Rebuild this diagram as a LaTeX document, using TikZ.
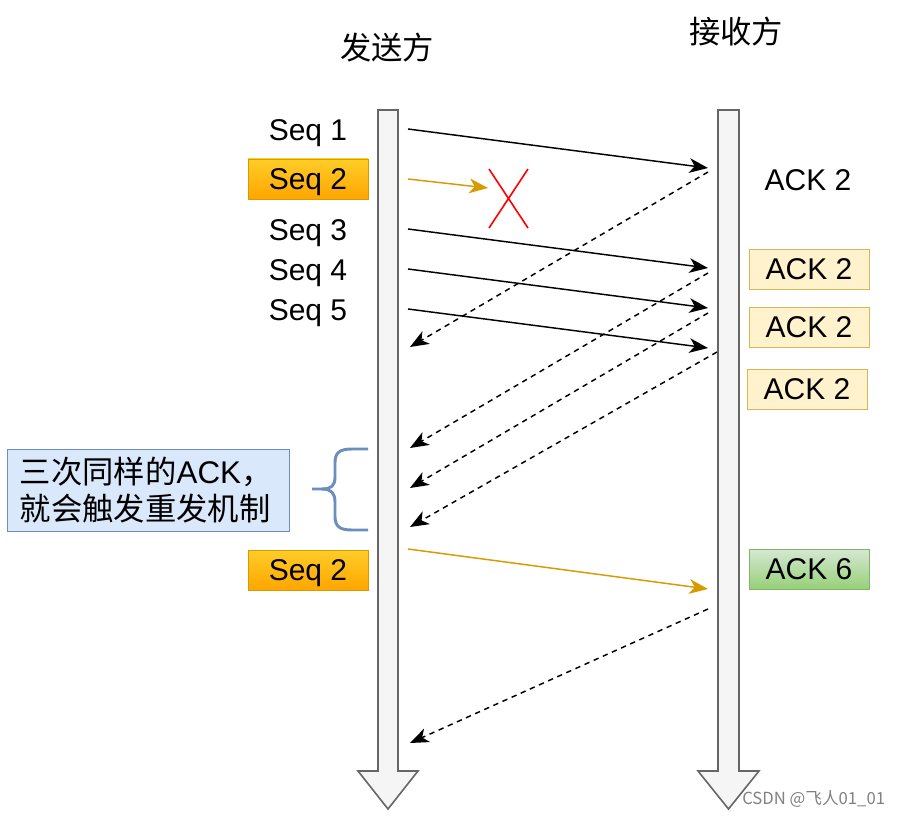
\documentclass[tikz,border=0pt]{standalone}
\usepackage{fontspec}
\setmainfont{Liberation Sans}
\newfontfamily\cjk{Noto Sans CJK SC}
\usetikzlibrary{positioning, arrows.meta}

\definecolor{lifegray}{HTML}{F5F5F5}
\definecolor{lifeedge}{HTML}{666666}
\definecolor{orangetop}{HTML}{FFCD28}
\definecolor{orangebot}{HTML}{FFA500}
\definecolor{orangeedge}{HTML}{D79B00}
\definecolor{ackfill}{HTML}{FFF2CC}
\definecolor{ackedge}{HTML}{D6B656}
\definecolor{greentop}{HTML}{D5E8D4}
\definecolor{greenbot}{HTML}{97D077}
\definecolor{greenedge}{HTML}{82B366}
\definecolor{notefill}{HTML}{DAE8FC}
\definecolor{noteedge}{HTML}{6C8EBF}

\begin{document}
\begin{tikzpicture}[x=0.75pt, y=-0.75pt]
      \tikzstyle{seqtext} = [font=\fontsize{22.5}{26}\selectfont, inner sep=0pt, text height=16.2pt, text depth=0pt]
      \tikzstyle{seqbox} = [seqtext, rectangle, minimum width=90pt, minimum height=30pt, draw=orangeedge, top color=orangetop, bottom color=orangebot]
      \tikzstyle{ackbox} = [seqtext, rectangle, minimum width=90pt, minimum height=30pt, draw=ackedge, fill=ackfill]
      \tikzstyle{greenbox} = [seqtext, rectangle, minimum width=90pt, minimum height=30pt, draw=greenedge, top color=greentop, bottom color=greenbot]
      \tikzstyle{notebox} = [rectangle, draw=noteedge, fill=notefill, minimum width=211.5pt, minimum height=61.5pt, text width=192pt, align=left, font=\fontsize{23.5}{28}\selectfont]
      \tikzstyle{title} = [font=\cjk\fontsize{23.5}{28}\selectfont, inner sep=0pt]
      \tikzstyle{arrow} = [line width=1.1pt, -{Stealth[length=14pt, width=11pt, inset=4pt]}]
      \tikzstyle{reply} = [arrow, dash pattern=on 4pt off 3.5pt]
      \tikzstyle{resend} = [arrow, orangeedge]
      \tikzstyle{lifeline} = [fill=lifegray, draw=lifeedge, line width=1.2pt]

      \useasboundingbox (0,0) rectangle (901,817);

      % the two time lines
      \filldraw [lifeline] (378,110) -- (398,110) -- (398,771) -- (418,771) -- (388,809) -- (358,771) -- (378,771) -- cycle;
      \filldraw [lifeline] (718,110) -- (739,110) -- (739,771) -- (759,771) -- (728.5,809) -- (698,771) -- (718,771) -- cycle;

      \node (sender) [title] at (387,48) {发送方};
      \node (receiver) [title] at (736,32) {接收方};

      \node (seqone) [seqtext] at (308,130) {Seq 1};
      \node (seqtwo) [seqbox] at (308,179) {Seq 2};
      \node (seqthree) [seqtext] at (308,230) {Seq 3};
      \node (seqfour) [seqtext] at (308,270) {Seq 4};
      \node (seqfive) [seqtext] at (308,310) {Seq 5};
      \node (seqresend) [seqbox] at (308,570) {Seq 2};

      \node (ackone) [seqtext] at (808,180) {ACK 2};
      \node (ackthree) [ackbox] at (809,269) {ACK 2};
      \node (ackfour) [ackbox] at (809,327) {ACK 2};
      \node (ackfive) [ackbox] at (807,389) {ACK 2};
      \node (acksix) [greenbox] at (809,569) {ACK 6};

      % ends of the messages on both lines
      \coordinate (sone) at (408,129);    \coordinate (rone) at (708,168);
      \coordinate (stwo) at (408,179);    \coordinate (lost) at (488,188);
      \coordinate (sthree) at (408,229);  \coordinate (rthree) at (708,268);
      \coordinate (sfour) at (408,269);   \coordinate (rfour) at (708,308);
      \coordinate (sfive) at (408,309);   \coordinate (rfive) at (708,348);
      \coordinate (sresend) at (408,549); \coordinate (rresend) at (708,589);

      \coordinate (aone) at (708,172);    \coordinate (bone) at (410,347);
      \coordinate (athree) at (708,273);  \coordinate (bthree) at (410,448);
      \coordinate (afour) at (708,313);   \coordinate (bfour) at (410,488);
      \coordinate (afive) at (717,352);   \coordinate (bfive) at (410,527);
      \coordinate (asix) at (708,609);    \coordinate (bsix) at (410,743);

      \draw [arrow] (sone) -- (rone);
      \draw [resend] (stwo) -- (lost);
      \draw [arrow] (sthree) -- (rthree);
      \draw [arrow] (sfour) -- (rfour);
      \draw [arrow] (sfive) -- (rfive);
      \draw [resend] (sresend) -- (rresend);

      \draw [reply] (aone) -- (bone);
      \draw [reply] (athree) -- (bthree);
      \draw [reply] (afour) -- (bfour);
      \draw [reply] (afive) -- (bfive);
      \draw [reply] (asix) -- (bsix);

      % packet lost
      \draw [red, line width=1.2pt] (489,169) -- (528,228) (528,169) -- (489,228);

      % three duplicate acks
      \draw [noteedge, line width=2.2pt] (368,449) -- (352,449) .. controls (339,449) and (335,453) .. (335,463) -- (335,477) .. controls (335,486) and (331,489) .. (322,489) -- (312,489);
      \draw [noteedge, line width=2.2pt] (368,530) -- (352,530) .. controls (339,530) and (335,526) .. (335,516) -- (335,502) .. controls (335,493) and (331,489) .. (322,489);

      \node (note) [notebox] at (148,490) {{\cjk 三次同样的}ACK{\cjk ，}\\{\cjk 就会触发重发机制}};

      \node (mark) [anchor=west, inner sep=0pt, text=gray, font=\cjk\fontsize{12.5}{14}\selectfont] at (742,799) {CSDN @飞人01\_01};

    \end{tikzpicture}
\end{document}
